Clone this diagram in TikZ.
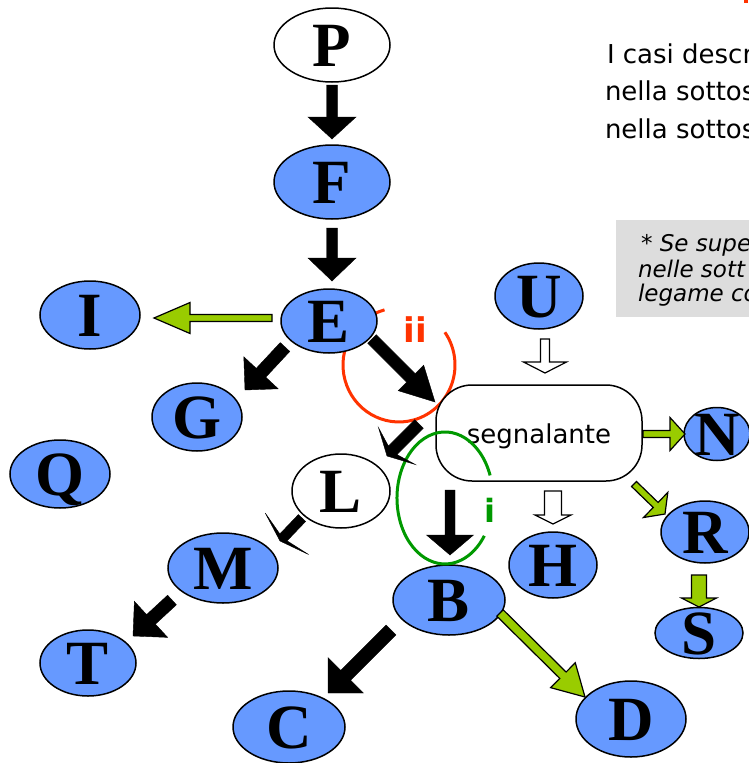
\documentclass[tikz,border=0pt]{standalone}
\usepackage{fontspec}
\newfontfamily\lettfont{Liberation Serif}
\newfontfamily\vsans{DejaVu Sans}
\usetikzlibrary{shapes.geometric,calc}
\definecolor{nodeblue}{HTML}{6699FF}
\definecolor{agreen}{HTML}{99CC00}
\definecolor{redc}{HTML}{FF3300}
\definecolor{greenc}{HTML}{009900}
\definecolor{greybox}{HTML}{DDDDDD}
\newcommand{\ltr}[1]{\makebox[0pt]{\raisebox{-21pt}[0pt][0pt]{\lettfont\bfseries\fontsize{63}{63}\selectfont #1}}}
% #1 style, #2 from, #3 tip, #4 shaft half width, #5 head half width, #6 barb distance, #7 notch distance
\newcommand{\blockarr}[7]{%
  \coordinate (bak) at ($(#3)!#7!(#2)$);
  \coordinate (bab) at ($(#3)!#6!(#2)$);
  \draw[#1] ($(#2)!#4!90:(#3)$) -- ($(bak)!#4!90:(#3)$) -- ($(bab)!#5!90:(#3)$) -- (#3)
    -- ($(bab)!#5!-90:(#3)$) -- ($(bak)!#4!-90:(#3)$) -- ($(#2)!#4!-90:(#3)$) -- cycle;
}
\begin{document}
\begin{tikzpicture}[x=1pt,y=-1pt,
  ell/.style={ellipse, draw=black, line width=1.5pt, inner sep=0pt, outer sep=0pt},
  bnode/.style={ell, fill=nodeblue},
  wnode/.style={ell, fill=white},
  blk/.style={fill=black, draw=black, line width=0.4pt, line join=miter},
  grn/.style={fill=agreen, draw=black, line width=1.2pt, line join=miter},
  wht/.style={fill=white, draw=black, line width=1.2pt, line join=miter},
  txt/.style={inner sep=0pt, outer sep=0pt, anchor=base west, font=\vsans\fontsize{26}{30}\selectfont},
  note/.style={inner sep=0pt, outer sep=0pt, anchor=base west, font=\vsans\itshape\fontsize{23}{25}\selectfont}]
\useasboundingbox (0,0) rectangle (749,763);
\clip (0,0) rectangle (749,763);
\fill[white] (0,0) rectangle (749,763);

% text at top right
\fill[redc] (744,0) rectangle (748,3);
\node[txt] (t1) at (607,63) {I casi descr};
\node[txt] (t2) at (605,100) {nella sottos};
\node[txt] (t3) at (605,138) {nella sottos};

% grey note
\fill[greybox] (616,220) rectangle (760,317);
\node[note] (n1) at (641,251) {* Se supe};
\node[note] (n2) at (638,277) {nelle sott};
\node[note] (n3) at (638,301) {legame co};

% red arc (behind E)
\draw[redc, line width=3pt] (384.5,309.9) arc[start angle=-105, end angle=-395, x radius=56, y radius=57];

% nodes
\node[wnode, minimum width=116pt, minimum height=74pt] (P) at (332,45) {\ltr{P}};
\node[bnode, minimum width=116pt, minimum height=74pt] (F) at (332,182) {\ltr{F}};
\node[bnode, minimum width=96pt, minimum height=64pt] (E) at (329,321) {\ltr{E}};
\node[bnode, minimum width=100pt, minimum height=68pt] (I) at (90,315) {\ltr{I}};
\node[bnode, minimum width=90pt, minimum height=68pt] (G) at (197,417) {\ltr{G}};
\node[bnode, minimum width=100pt, minimum height=68pt] (Q) at (60,474) {\ltr{Q}};
\node[bnode, minimum width=88pt, minimum height=66pt] (U) at (539,296) {\ltr{U}};
\node[wnode, minimum width=98pt, minimum height=74pt] (L) at (341,491) {\ltr{L}};
\node[bnode, minimum width=110pt, minimum height=70pt] (M) at (223,568) {\ltr{M}};
\node[bnode, minimum width=96pt, minimum height=66pt] (T) at (88,663) {\ltr{T}};
\node[bnode, minimum width=112pt, minimum height=72pt] (C) at (289,727) {\ltr{C}};
\node[bnode, minimum width=112pt, minimum height=70pt] (B) at (449,600) {\ltr{B}};
\node[bnode, minimum width=88pt, minimum height=66pt] (H) at (553,565) {\ltr{H}};
\node[bnode, minimum width=66pt, minimum height=53pt] (N) at (717,434) {\ltr{N}};
\node[bnode, minimum width=88pt, minimum height=62pt] (R) at (705,532) {\ltr{R}};
\node[bnode, minimum width=88pt, minimum height=51pt] (S) at (699,633) {\ltr{S}};
\node[bnode, minimum width=110pt, minimum height=76pt] (D) at (631,719) {\ltr{D}};

% segnalante box
\node[draw=black, fill=white, line width=1.5pt, rounded corners=36pt, minimum width=206pt, minimum height=96pt, inner sep=0pt] (seg) at (539,433) {};
\node[inner sep=0pt, anchor=base, font=\vsans\fontsize{26}{30}\selectfont] (segtxt) at (539,443) {segnalante};

% green arc
\draw[greenc, line width=3pt] (490.1,475.4) arc[start angle=-20, end angle=-325, x radius=48, y radius=66];

% labels
\node[inner sep=0pt, anchor=base, text=redc, font=\vsans\bfseries\fontsize{34}{34}\selectfont] (lii) at (415,342) {ii};
\node[inner sep=0pt, anchor=base, text=greenc, font=\vsans\bfseries\fontsize{32}{32}\selectfont] (li) at (490,522) {i};

% arrow end points
\coordinate (pf1) at (332,85);   \coordinate (pf2) at (332,139);
\coordinate (fe1) at (332,228);  \coordinate (fe2) at (332,281);
\coordinate (eg1) at (285,347);  \coordinate (eg2) at (245,390);
\coordinate (es1) at (372,339);  \coordinate (es2) at (435,402);
\coordinate (sl1) at (419,424);  \coordinate (sl2) at (387,456);
\coordinate (lm1) at (302,518);  \coordinate (lm2) at (280,541);
\coordinate (mt1) at (172,600);  \coordinate (mt2) at (133,636);
\coordinate (bc1) at (391,630);  \coordinate (bc2) at (328,693);
\coordinate (sb1) at (450,490);  \coordinate (sb2) at (450,555);
\coordinate (ei1) at (272,318);  \coordinate (ei2) at (154,318);
\coordinate (sn1) at (643,434);  \coordinate (sn2) at (685,434);
\coordinate (sr1) at (634,484);  \coordinate (sr2) at (665,514);
\coordinate (rs1) at (699,575);  \coordinate (rs2) at (699,607);
\coordinate (bd1) at (500,613);  \coordinate (bd2) at (585,697);
\coordinate (us1) at (545,339);  \coordinate (us2) at (545,373);
\coordinate (sh1) at (553,491);  \coordinate (sh2) at (553,524);

% black arrows
\blockarr{blk}{pf1}{pf2}{5.5pt}{24pt}{22pt}{22pt}
\blockarr{blk}{fe1}{fe2}{5.5pt}{24pt}{23pt}{23pt}
\blockarr{blk}{eg1}{eg2}{6.5pt}{23.5pt}{23.5pt}{23.5pt}
\blockarr{blk}{es1}{es2}{6pt}{18pt}{34pt}{34pt}
\blockarr{blk}{sl1}{sl2}{6pt}{26pt}{14pt}{8pt}
\blockarr{blk}{lm1}{lm2}{5pt}{30pt}{10pt}{5pt}
\blockarr{blk}{mt1}{mt2}{6.5pt}{24.5pt}{24.5pt}{24.5pt}
\blockarr{blk}{bc1}{bc2}{7pt}{25pt}{25pt}{25pt}
\blockarr{blk}{sb1}{sb2}{5pt}{23.5pt}{20pt}{20pt}
% green arrows
\blockarr{grn}{ei1}{ei2}{3.5pt}{15.5pt}{36pt}{36pt}
\blockarr{grn}{sn1}{sn2}{3.5pt}{16.5pt}{15pt}{15pt}
\blockarr{grn}{sr1}{sr2}{3.5pt}{17.5pt}{13pt}{13pt}
\blockarr{grn}{rs1}{rs2}{7.5pt}{17.5pt}{9pt}{9pt}
\blockarr{grn}{bd1}{bd2}{4.5pt}{17.5pt}{31pt}{31pt}
% white arrows
\blockarr{wht}{us1}{us2}{4.5pt}{21.5pt}{11pt}{11pt}
\blockarr{wht}{sh1}{sh2}{8.5pt}{18pt}{9pt}{9pt}
\end{tikzpicture}
\end{document}
